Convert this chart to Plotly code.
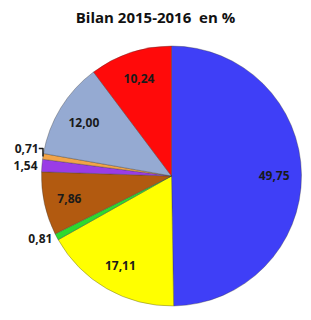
import plotly.graph_objects as go

labels = ["A", "B", "C", "D", "E", "F", "G", "H"]
values = [49.75, 17.11, 0.81, 7.86, 1.54, 0.71, 12.00, 10.24]
colors = ["#3F3FF7", "#FFFF00", "#2ED92E", "#B25A10", "#9A3CE6", "#F3A447", "#95AAD2", "#FF0A0A"]
positions = ["inside", "inside", "outside", "inside", "outside", "outside", "inside", "inside"]
title = "Bilan 2015-2016  en %"

font = dict(family="Open Sans", size=12, color="#1a1a1a", weight="bold")

# coloured pie (no text)
fig = go.Figure(go.Pie(
    labels=labels,
    values=values,
    sort=False,
    direction="clockwise",
    rotation=0,
    marker=dict(colors=colors, line=dict(color="rgba(60,60,60,0.45)", width=0.8)),
    textinfo="none",
    showlegend=False,
    hoverinfo="none",
))

# transparent ring on top carrying the value labels further out
fig.add_trace(go.Pie(
    labels=labels,
    values=values,
    sort=False,
    direction="clockwise",
    rotation=0,
    hole=0.58,
    marker=dict(colors=["rgba(0,0,0,0)"] * len(values), line=dict(width=0)),
    texttemplate="%{value:.2f}",
    textposition=positions,
    insidetextorientation="horizontal",
    textfont=font,
    outsidetextfont=font,
    showlegend=False,
    hoverinfo="none",
))

fig.update_layout(
    width=311, height=320,
    separators=", ",
    paper_bgcolor="white",
    margin=dict(l=41, r=9, t=46, b=14),
    title=dict(text=title, x=0.5, xanchor="center", y=0.945, yanchor="middle",
               font=dict(family="Open Sans", size=15, color="#111", weight="bold")),
)

fig.write_html("out.html")
